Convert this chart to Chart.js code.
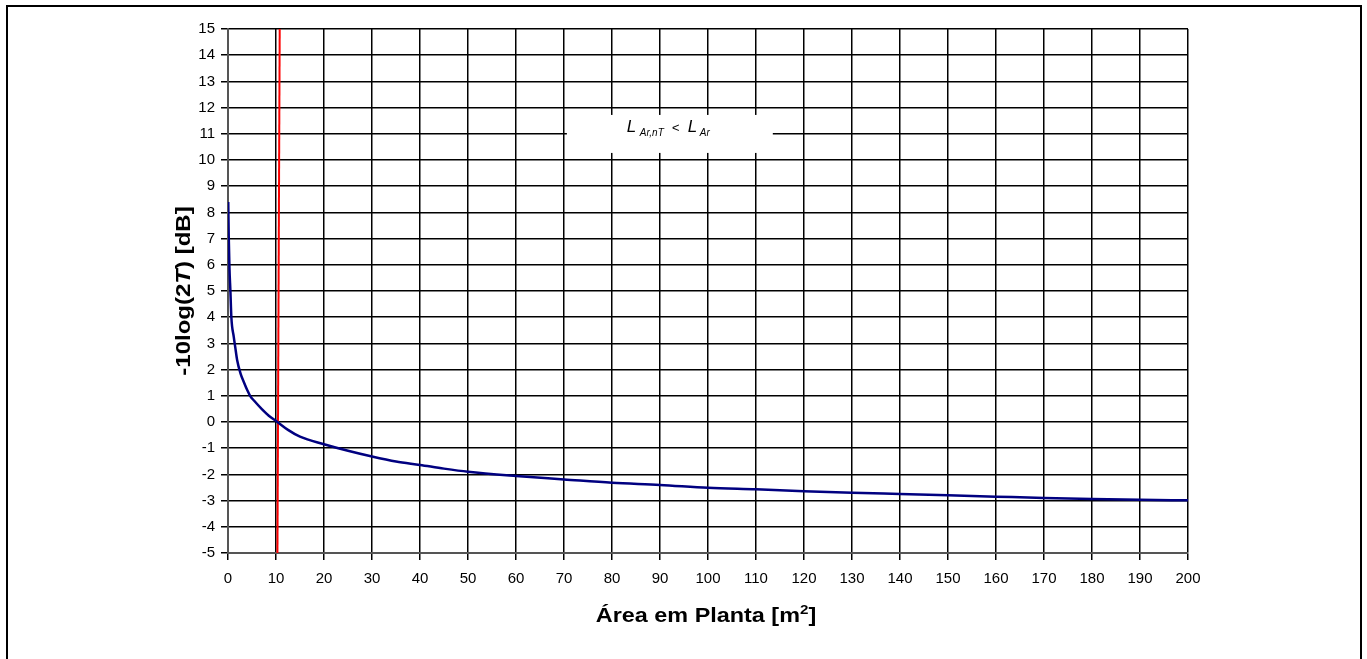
<!DOCTYPE html>
<html>
<head>
<meta charset="utf-8">
<script src="https://cdn.jsdelivr.net/npm/chart.js@4.4.1/dist/chart.umd.min.js"></script>
<style>
  html, body { margin: 0; padding: 0; background: #fff; }
  canvas { display: block; }
</style>
</head>
<body>
<canvas id="c" width="1367" height="659" style="width:1367px;height:659px"></canvas>
<script>
// ---- data ----
const areaX = [0.05, 0.15, 0.3, 0.5, 0.7, 1.2, 1.5, 1.9, 2.6, 3.4, 4.0, 4.6, 5.5, 7.0, 8.5, 10.3, 12.5, 15, 20, 25, 30, 35, 40, 45, 50, 60, 70, 80, 90, 100, 110, 120, 130, 140, 150, 160, 170, 180, 190, 200];
const levelY = [8.4, 7.1, 5.9, 5.0, 4.0, 3.25, 2.87, 2.37, 1.86, 1.48, 1.22, 1.0, 0.8, 0.5, 0.24, 0.0, -0.3, -0.56, -0.85, -1.1, -1.32, -1.51, -1.64, -1.78, -1.9, -2.06, -2.19, -2.32, -2.4, -2.51, -2.57, -2.64, -2.7, -2.75, -2.8, -2.85, -2.9, -2.94, -2.97, -2.99];
const limitX = [10.3, 10.77];
const limitY = [-5, 15];
const xMin = 0, xMax = 200, xStep = 10;
const yMin = -5, yMax = 15, yStep = 1;
const xTitleMain = 'Área em Planta [m';
const xTitleSup = '2';
const xTitleEnd = ']';
const yTitleParts = ['-10log(2', 'T', ') [dB]'];
const noteBoxX = [70.6, 113.5];
const noteBoxY = [10.27, 11.72];

const curve = areaX.map((x, i) => ({ x: x, y: levelY[i] }));
const limit = limitX.map((x, i) => ({ x: x, y: limitY[i] }));

const FONT = '"Liberation Sans", Arial, sans-serif';

const decor = {
  id: 'decor',
  beforeDraw(chart) {
    const ctx = chart.ctx;
    ctx.save();
    ctx.fillStyle = '#fff';
    ctx.fillRect(0, 0, chart.width, chart.height);
    ctx.restore();
  },
  beforeDatasetsDraw(chart) {
    const ctx = chart.ctx;
    const xs = chart.scales.x, ys = chart.scales.y;
    const x1 = xs.getPixelForValue(noteBoxX[0]), x2 = xs.getPixelForValue(noteBoxX[1]);
    const y1 = ys.getPixelForValue(noteBoxY[1]), y2 = ys.getPixelForValue(noteBoxY[0]);
    ctx.save();
    ctx.fillStyle = '#fff';
    ctx.fillRect(x1, y1, x2 - x1, y2 - y1);
    const cx = (x1 + x2) / 2;
    const base = (y1 + y2) / 2 - 2;
    ctx.fillStyle = '#000';
    ctx.textBaseline = 'alphabetic';
    ctx.textAlign = 'left';
    ctx.font = 'italic 17px ' + FONT;
    ctx.fillText('L', cx - 43, base);
    ctx.fillText('L', cx + 18, base);
    ctx.font = 'italic 13px ' + FONT;
    ctx.fillText('<', cx + 2, base);
    ctx.font = 'italic 10px ' + FONT;
    ctx.fillText('Ar,nT', cx - 30, base + 4);
    ctx.fillText('Ar', cx + 30, base + 4);
    ctx.restore();
  },
  afterDraw(chart) {
    const ctx = chart.ctx;
    const ca = chart.chartArea;
    ctx.save();
    ctx.fillStyle = '#000';
    // x axis title
    const sx = 1.17;
    ctx.font = 'bold 20px ' + FONT;
    const wMain = ctx.measureText(xTitleMain).width;
    const wEnd = ctx.measureText(xTitleEnd).width;
    ctx.font = 'bold 13px ' + FONT;
    const wSup = ctx.measureText(xTitleSup).width;
    const total = (wMain + wSup + wEnd) * sx;
    const cx = (ca.left + ca.right) / 2;
    ctx.save();
    ctx.translate(cx - total / 2 - 2, 622);
    ctx.scale(sx, 1);
    ctx.textBaseline = 'alphabetic';
    ctx.textAlign = 'left';
    ctx.font = 'bold 20px ' + FONT;
    ctx.fillText(xTitleMain, 0, 0);
    ctx.font = 'bold 13px ' + FONT;
    ctx.fillText(xTitleSup, wMain, -8);
    ctx.font = 'bold 20px ' + FONT;
    ctx.fillText(xTitleEnd, wMain + wSup, 0);
    ctx.restore();

    // y axis title (rotated)
    const sy = 1.2;
    const fonts = ['bold 20px ' + FONT, 'italic bold 20px ' + FONT, 'bold 20px ' + FONT];
    const widths = yTitleParts.map((t, i) => { ctx.font = fonts[i]; return ctx.measureText(t).width; });
    const tw = widths.reduce((a, b) => a + b, 0) * sy;
    const cy = (ca.top + ca.bottom) / 2;
    ctx.save();
    ctx.translate(190, cy + tw / 2);
    ctx.rotate(-Math.PI / 2);
    ctx.scale(sy, 1);
    let off = 0;
    yTitleParts.forEach((t, i) => {
      ctx.font = fonts[i];
      ctx.fillText(t, off, 0);
      off += widths[i];
    });
    ctx.restore();

    // outer frame
    ctx.strokeStyle = '#000';
    ctx.lineWidth = 2;
    ctx.strokeRect(7, 6, 1354, 720);
    ctx.restore();
  }
};

new Chart(document.getElementById('c'), {
  type: 'line',
  data: {
    datasets: [
      {
        data: curve,
        borderColor: '#000080',
        borderWidth: 2.5,
        pointRadius: 0,
        cubicInterpolationMode: 'monotone',
        fill: false
      },
      {
        data: limit,
        borderColor: '#ff0000',
        borderWidth: 2,
        pointRadius: 0,
        fill: false
      }
    ]
  },
  options: {
    responsive: false,
    animation: false,
    devicePixelRatio: 1,
    layout: { padding: { left: 168, top: 29, right: 179, bottom: 66 } },
    plugins: { legend: { display: false }, tooltip: { enabled: false }, title: { display: false } },
    scales: {
      x: {
        type: 'linear',
        min: xMin, max: xMax,
        ticks: { stepSize: xStep, color: '#000', font: { family: FONT, size: 15 }, padding: 10, maxRotation: 0, autoSkip: false },
        grid: { color: '#000', lineWidth: 1.5, tickLength: 7, tickColor: '#000' },
        border: { color: '#555', width: 2 },
        afterFit(s) { s.height = 40; }
      },
      y: {
        type: 'linear',
        min: yMin, max: yMax,
        ticks: { stepSize: yStep, color: '#000', font: { family: FONT, size: 15 }, padding: 6, autoSkip: false },
        grid: { color: '#000', lineWidth: 1.5, tickLength: 7, tickColor: '#000' },
        border: { color: '#555', width: 2 },
        afterFit(s) { s.width = 60; }
      }
    }
  },
  plugins: [decor]
});
</script>
</body>
</html>
